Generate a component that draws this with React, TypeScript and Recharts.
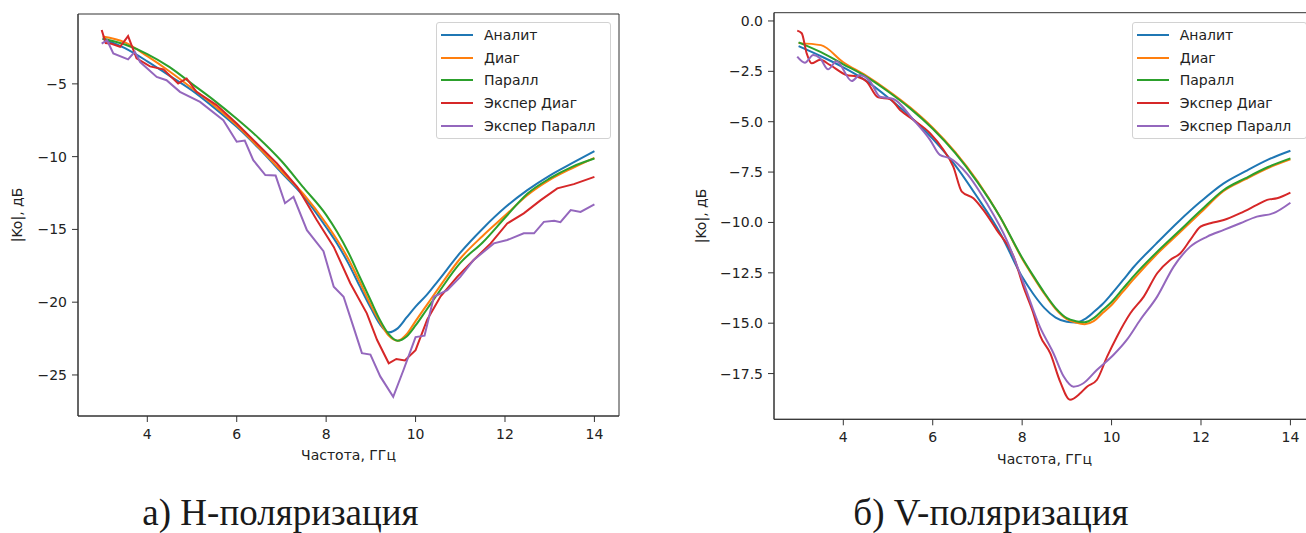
import React from 'react';
import { LineChart, Line, XAxis, YAxis, Legend, ReferenceArea } from 'recharts';

const COLORS = ['#1f77b4', '#ff7f0e', '#2ca02c', '#d62728', '#9467bd'];
const SERIES_NAMES = ['Аналит', 'Диаг', 'Паралл', 'Экспер Диаг', 'Экспер Паралл'];
const X_TICKS = [4, 6, 8, 10, 12, 14];
const H_Y_TICKS = [-25, -20, -15, -10, -5];
const V_Y_TICKS = [-17.5, -15, -12.5, -10, -7.5, -5, -2.5, 0];
const CAPTION_H = 'а) Н-поляризация';
const CAPTION_V = 'б) V-поляризация';
const X_LABEL = 'Частота, ГГц';
const Y_LABEL = '|Ko|, дБ';

// ---------- H-polarisation ----------
const H_GRID = [3, 3.5, 4, 4.5, 5, 5.5, 6, 6.5, 7, 7.5, 8, 8.25, 8.5, 8.75, 9, 9.2, 9.4, 9.6, 9.8, 10, 10.25, 10.5, 11, 11.5, 12, 12.5, 13, 13.5, 14];
const H_ANALIT = [-1.9, -2.55, -3.45, -4.45, -5.45, -6.65, -7.95, -9.45, -11.1, -12.75, -14.85, -16.0, -17.35, -18.9, -20.4, -21.5, -22.07, -21.8, -21.05, -20.3, -19.5, -18.55, -16.6, -14.95, -13.5, -12.3, -11.3, -10.45, -9.62];
const H_DIAG = [-1.75, -2.15, -3.1, -4.15, -5.3, -6.5, -7.85, -9.4, -11.0, -12.6, -14.6, -15.75, -17.05, -18.6, -20.2, -21.35, -22.3, -22.65, -22.2, -21.3, -20.2, -19.1, -17.0, -15.45, -14.05, -12.65, -11.6, -10.8, -10.08];
const H_PARALL = [-1.88, -2.3, -2.95, -3.85, -5.0, -6.15, -7.4, -8.75, -10.3, -12.15, -14.0, -15.2, -16.6, -18.25, -19.9, -21.2, -22.2, -22.65, -22.35, -21.6, -20.5, -19.4, -17.3, -15.9, -14.2, -12.55, -11.5, -10.7, -10.13];
const H_EXP_DIAG_F = [2.98, 3.07, 3.2, 3.39, 3.57, 3.76, 4.06, 4.36, 4.69, 4.88, 5.1, 5.55, 6.0, 6.45, 6.9, 7.35, 7.79, 8.17, 8.54, 8.91, 9.14, 9.4, 9.57, 9.76, 10.0, 10.26, 10.56, 10.93, 11.3, 11.68, 12.05, 12.42, 12.8, 13.17, 13.54, 14.0];
const H_EXP_DIAG = [-1.3, -2.2, -2.25, -2.45, -1.72, -3.25, -3.8, -4.0, -4.97, -4.63, -5.55, -6.46, -7.72, -9.1, -10.47, -12.07, -14.36, -16.2, -18.7, -20.77, -22.6, -24.2, -23.9, -24.0, -23.3, -21.2, -19.6, -18.26, -17.1, -15.96, -14.59, -13.9, -12.99, -12.18, -11.89, -11.39];
const H_EXP_PARALL_F = [2.98, 3.1, 3.24, 3.57, 3.72, 3.84, 4.21, 4.43, 4.73, 5.18, 5.7, 6.0, 6.18, 6.37, 6.64, 6.87, 7.08, 7.27, 7.57, 7.94, 8.17, 8.39, 8.61, 8.8, 8.99, 9.21, 9.5, 9.73, 10.0, 10.2, 10.41, 10.71, 11.0, 11.3, 11.75, 12.05, 12.42, 12.65, 12.87, 13.1, 13.24, 13.47, 13.69, 14.0];
const H_EXP_PARALL = [-2.23, -2.0, -2.91, -3.32, -2.8, -3.5, -4.52, -4.75, -5.55, -6.24, -7.49, -8.98, -8.9, -10.24, -11.27, -11.3, -13.2, -12.76, -15.05, -16.5, -18.94, -19.63, -21.7, -23.5, -23.6, -25.1, -26.5, -24.66, -22.4, -22.3, -19.63, -19.17, -18.26, -17.1, -15.96, -15.73, -15.27, -15.27, -14.48, -14.4, -14.5, -13.67, -13.8, -13.28];

// ---------- V-polarisation ----------
const V_GRID = [3, 3.5, 4, 4.5, 5, 5.5, 6, 6.5, 7, 7.5, 8, 8.25, 8.5, 8.75, 9, 9.2, 9.4, 9.6, 9.8, 10, 10.25, 10.5, 11, 11.5, 12, 12.5, 13, 13.5, 14];
const V_ANALIT = [-1.25, -1.75, -2.3, -2.95, -3.8, -4.75, -5.85, -7.15, -8.75, -10.5, -12.7, -13.55, -14.25, -14.72, -14.93, -14.97, -14.8, -14.45, -14.05, -13.55, -12.88, -12.2, -11.05, -9.95, -8.95, -8.07, -7.45, -6.88, -6.44];
const V_DIAG = [-1.1, -1.2, -2.05, -2.7, -3.45, -4.3, -5.3, -6.5, -7.95, -9.7, -11.8, -12.7, -13.55, -14.3, -14.8, -14.97, -15.05, -14.9, -14.5, -14.1, -13.45, -12.8, -11.6, -10.55, -9.5, -8.45, -7.85, -7.3, -6.87];
const V_PARALL = [-1.06, -1.55, -2.15, -2.75, -3.5, -4.35, -5.35, -6.55, -8.0, -9.7, -11.75, -12.65, -13.5, -14.25, -14.75, -14.9, -14.95, -14.75, -14.35, -13.95, -13.3, -12.65, -11.5, -10.45, -9.4, -8.4, -7.8, -7.25, -6.82];
const V_EXP_DIAG_F = [2.97, 3.07, 3.18, 3.29, 3.48, 3.7, 4.07, 4.3, 4.52, 4.78, 5.04, 5.27, 5.57, 5.94, 6.24, 6.46, 6.65, 6.91, 7.13, 7.43, 7.81, 8.03, 8.25, 8.4, 8.63, 8.85, 9.07, 9.3, 9.45, 9.67, 9.9, 10.12, 10.42, 10.72, 11.02, 11.31, 11.54, 11.76, 11.99, 12.21, 12.51, 12.88, 13.25, 13.48, 13.7, 14.0];
const V_EXP_DIAG = [-0.48, -0.61, -1.6, -2.1, -1.93, -2.18, -2.68, -2.76, -3.0, -3.79, -3.87, -4.42, -4.91, -5.57, -6.4, -7.23, -8.47, -8.8, -9.38, -10.37, -11.7, -13.2, -14.5, -15.6, -16.5, -17.9, -18.8, -18.48, -18.15, -17.82, -16.66, -15.67, -14.51, -13.68, -12.52, -11.86, -11.53, -10.87, -10.21, -10.04, -9.88, -9.54, -9.13, -8.88, -8.8, -8.52];
const V_EXP_PARALL_F = [2.97, 3.14, 3.33, 3.48, 3.66, 3.85, 4.19, 4.37, 4.6, 4.82, 5.12, 5.57, 5.94, 6.16, 6.39, 6.76, 7.21, 7.66, 8.03, 8.4, 8.7, 8.93, 9.15, 9.37, 9.67, 10.04, 10.34, 10.64, 11.02, 11.39, 11.76, 12.14, 12.51, 12.88, 13.25, 13.62, 14.0];
const V_EXP_PARALL = [-1.77, -2.07, -1.69, -1.85, -2.4, -2.0, -2.98, -2.68, -3.0, -3.76, -3.87, -4.91, -5.9, -6.65, -6.82, -7.56, -9.05, -10.9, -13.0, -15.2, -16.49, -17.65, -18.15, -17.98, -17.32, -16.58, -15.83, -14.84, -13.68, -12.19, -11.2, -10.7, -10.37, -10.04, -9.71, -9.54, -9.02];

const toPoints = (f: number[], v: number[]) => f.map((x, i) => ({ f: x, v: v[i] }));
const fmtMinus = (s: string) => s.replace('-', '\u2212');

const FONT = 'DejaVu Sans';
const TEXT = '#222';
const SPINE = '#333';
const X_DOMAIN: [number, number] = [2.45, 14.55];

type Series = { name: string; data: { f: number; v: number }[]; color: string; curve: 'monotone' | 'linear' };

const LegendBox = () => (
  <div
    style={{
      position: 'relative',
      width: 175,
      height: 117,
      boxSizing: 'border-box',
      border: '1px solid #d2d2d2',
      borderRadius: 3,
      background: 'rgba(255,255,255,0.85)',
      fontFamily: FONT,
      fontSize: 14,
      color: TEXT,
    }}
  >
    {SERIES_NAMES.map((n, i) => {
      const cy = 11.6 + i * 22.9;
      return (
        <React.Fragment key={n}>
          <div style={{ position: 'absolute', left: 4, top: cy - 1, width: 32, height: 2, background: COLORS[i] }} />
          <div style={{ position: 'absolute', left: 47, top: cy - 10, height: 20, lineHeight: '20px', whiteSpace: 'nowrap' }}>{n}</div>
        </React.Fragment>
      );
    })}
  </div>
);

type PanelProps = {
  series: Series[];
  yTicks: number[];
  yDomain: [number, number];
  yFmt: (v: number) => string;
  margin: { top: number; right: number; bottom: number; left: number };
  xLabelY: number;
  yLabelX: number;
  legendLeft: number;
};

const W = 650;
const H = 480;

const Panel = ({ series, yTicks, yDomain, yFmt, margin, xLabelY, yLabelX, legendLeft }: PanelProps) => {
  const plotLeft = margin.left + 60;
  const plotRight = W - margin.right;
  const plotTop = margin.top;
  const plotBottom = H - margin.bottom - 40;
  const cx = (plotLeft + plotRight) / 2;
  const cy = (plotTop + plotBottom) / 2;
  const tickStyle = { fill: TEXT, fontSize: 14, fontFamily: FONT };
  return (
    <LineChart width={W} height={H} margin={margin}>
      <XAxis
        dataKey="f"
        type="number"
        domain={X_DOMAIN}
        allowDataOverflow
        ticks={X_TICKS}
        height={40}
        tickSize={6}
        tickMargin={7}
        tick={tickStyle}
        stroke={SPINE}
        axisLine={{ stroke: SPINE }}
        tickLine={{ stroke: SPINE }}
        label={() => (
          <text x={cx} y={xLabelY} textAnchor="middle" fontSize={14} fontFamily={FONT} fill={TEXT}>
            {X_LABEL}
          </text>
        )}
      />
      <YAxis
        type="number"
        domain={yDomain}
        allowDataOverflow
        ticks={yTicks}
        width={60}
        tickSize={6}
        tickMargin={5}
        tick={tickStyle}
        tickFormatter={yFmt}
        axisLine={{ stroke: SPINE }}
        tickLine={{ stroke: SPINE }}
        label={() => (
          <text
            x={yLabelX}
            y={cy}
            transform={`rotate(-90 ${yLabelX} ${cy})`}
            textAnchor="middle"
            fontSize={14}
            fontFamily={FONT}
            fill={TEXT}
          >
            {Y_LABEL}
          </text>
        )}
      />
      <ReferenceArea
        x1={X_DOMAIN[0]}
        x2={X_DOMAIN[1]}
        y1={yDomain[0]}
        y2={yDomain[1]}
        fill="none"
        fillOpacity={0}
        stroke={SPINE}
        strokeWidth={1}
        ifOverflow="visible"
      />
      {series.map((s) => (
        <Line
          key={s.name}
          name={s.name}
          data={s.data}
          dataKey="v"
          type={s.curve}
          stroke={s.color}
          strokeWidth={2}
          dot={false}
          activeDot={false}
          isAnimationActive={false}
        />
      ))}
      <Legend
        layout="vertical"
        align="center"
        verticalAlign="middle"
        content={() => <LegendBox />}
        wrapperStyle={{ left: legendLeft, top: 22, width: 175, height: 117 }}
      />
    </LineChart>
  );
};

const H_SERIES: Series[] = [
  { name: SERIES_NAMES[0], data: toPoints(H_GRID, H_ANALIT), color: COLORS[0], curve: 'monotone' },
  { name: SERIES_NAMES[1], data: toPoints(H_GRID, H_DIAG), color: COLORS[1], curve: 'monotone' },
  { name: SERIES_NAMES[2], data: toPoints(H_GRID, H_PARALL), color: COLORS[2], curve: 'monotone' },
  { name: SERIES_NAMES[3], data: toPoints(H_EXP_DIAG_F, H_EXP_DIAG), color: COLORS[3], curve: 'linear' },
  { name: SERIES_NAMES[4], data: toPoints(H_EXP_PARALL_F, H_EXP_PARALL), color: COLORS[4], curve: 'linear' },
];

const V_SERIES: Series[] = [
  { name: SERIES_NAMES[0], data: toPoints(V_GRID, V_ANALIT), color: COLORS[0], curve: 'monotone' },
  { name: SERIES_NAMES[1], data: toPoints(V_GRID, V_DIAG), color: COLORS[1], curve: 'monotone' },
  { name: SERIES_NAMES[2], data: toPoints(V_GRID, V_PARALL), color: COLORS[2], curve: 'monotone' },
  { name: SERIES_NAMES[3], data: toPoints(V_EXP_DIAG_F, V_EXP_DIAG), color: COLORS[3], curve: 'monotone' },
  { name: SERIES_NAMES[4], data: toPoints(V_EXP_PARALL_F, V_EXP_PARALL), color: COLORS[4], curve: 'monotone' },
];

export default function App() {
  return (
    <div style={{ position: 'absolute', left: 0, top: 0, width: 1306, height: 533, overflow: 'hidden', background: '#fff' }}>
      <div style={{ position: 'absolute', left: 0, top: 0 }}>
        <Panel
          series={H_SERIES}
          yTicks={H_Y_TICKS}
          yDomain={[-27.82, -0.2]}
          yFmt={(v) => fmtMinus(String(v))}
          margin={{ top: 14, right: 31, bottom: 24, left: 18 }}
          xLabelY={459.5}
          yLabelX={22}
          legendLeft={436}
        />
      </div>
      <div style={{ position: 'absolute', left: 686, top: 0 }}>
        <Panel
          series={V_SERIES}
          yTicks={V_Y_TICKS}
          yDomain={[-19.77, 0.41]}
          yFmt={(v) => fmtMinus(v.toFixed(1))}
          margin={{ top: 12.7, right: 21, bottom: 20.7, left: 28 }}
          xLabelY={463.5}
          yLabelX={20}
          legendLeft={445.7}
        />
      </div>
      <svg width={1306} height={533} style={{ position: 'absolute', left: 0, top: 0, pointerEvents: 'none' }}>
        <text x={280.5} y={525} textAnchor="middle" fontSize={37} fontFamily="Liberation Serif" fill="#1a1a1a">
          {CAPTION_H}
        </text>
        <text x={991} y={525} textAnchor="middle" fontSize={37} fontFamily="Liberation Serif" fill="#1a1a1a">
          {CAPTION_V}
        </text>
      </svg>
    </div>
  );
}
